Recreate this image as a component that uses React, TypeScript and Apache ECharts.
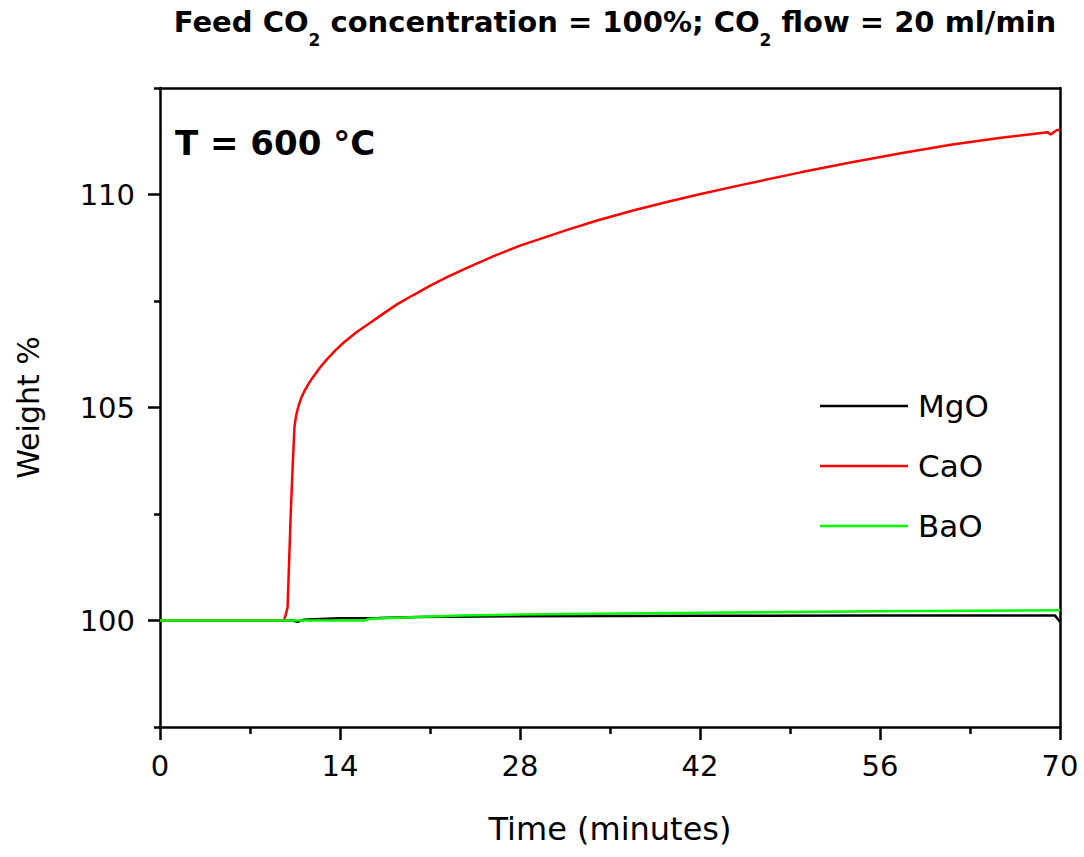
import React, { useEffect, useRef } from "react";
import * as echarts from "echarts";

const FONT = "'DejaVu Sans', sans-serif";

const seriesNames = ["MgO", "CaO", "BaO"];
const seriesColors = ["#000000", "#ff0000", "#00ff00"];

const timeMgO = [0, 10.3, 10.7, 11.2, 12, 14, 17, 20, 28, 42, 56, 69.6, 70];
const weightMgO = [100, 100, 99.97, 100.02, 100.03, 100.05, 100.06, 100.08, 100.1, 100.11, 100.12, 100.12, 99.97];

const timeCaO = [0, 5, 9.65, 9.92, 10.17, 10.33, 10.46, 10.6, 10.77, 11.0, 11.29, 11.6, 11.94, 12.4, 12.98, 13.6, 14.27, 15.3, 16.35, 17.4, 18.43, 19.7, 21.02, 22.4, 23.88, 26, 28, 31.67, 34, 36.86, 39.5, 42.05, 45.16, 49.83, 53.7, 57.62, 61.5, 65.41, 69.05, 69.26, 69.74, 70];
const weightCaO = [100, 100, 100, 100.3, 102.53, 103.7, 104.56, 104.83, 105.03, 105.24, 105.42, 105.58, 105.73, 105.92, 106.13, 106.33, 106.52, 106.77, 106.99, 107.21, 107.42, 107.64, 107.86, 108.07, 108.28, 108.56, 108.8, 109.17, 109.39, 109.63, 109.83, 110.01, 110.22, 110.52, 110.75, 110.97, 111.17, 111.33, 111.46, 111.41, 111.51, 111.52];

const timeBaO = [0, 10, 15.9, 16.3, 20, 23.4, 28, 42, 56, 70];
const weightBaO = [100, 100, 100, 100.04, 100.08, 100.12, 100.14, 100.18, 100.22, 100.24];

const xTickLabels = [0, 14, 28, 42, 56, 70];
const yTickLabels = [100, 105, 110];

const titleText = "{b|Feed CO}{s|2}{b| concentration = 100%; CO}{s|2}{b| flow = 20 ml/min}";
const annotation = "T = 600 °C";

function pairs(t: number[], w: number[]) {
  return t.map((v, i) => [v, w[i]]);
}

export default function App() {
  const ref = useRef<HTMLDivElement>(null);
  useEffect(() => {
    if (!ref.current) return;
    const chart = echarts.init(ref.current, undefined, { renderer: "svg" });
    const allData = [pairs(timeMgO, weightMgO), pairs(timeCaO, weightCaO), pairs(timeBaO, weightBaO)];
    const lineW = 2.5;
    const axisW = 2.5;
    chart.setOption({
      animation: false,
      backgroundColor: "#ffffff",
      grid: { left: 160, right: 24, top: 88, bottom: 130, containLabel: false },
      legend: {
        data: seriesNames,
        orient: "vertical",
        left: 820,
        top: 389,
        padding: 0,
        icon: "rect",
        itemWidth: 88,
        itemHeight: 2.5,
        itemGap: 26,
        textStyle: {
          fontFamily: FONT,
          fontSize: 31,
          color: "#000",
          lineHeight: 34,
          padding: [0, 0, 0, 5],
        },
      },
      xAxis: [
        {
          type: "value",
          position: "bottom",
          min: 0,
          max: 70,
          interval: 14,
          axisLine: { show: true, onZero: false, lineStyle: { color: "#000", width: axisW } },
          axisTick: { show: true, length: 13, lineStyle: { color: "#000", width: axisW } },
          minorTick: { show: true, splitNumber: 2, length: 7, lineStyle: { color: "#000", width: axisW } },
          splitLine: { show: false },
          minorSplitLine: { show: false },
          axisLabel: {
            fontFamily: FONT,
            fontSize: 29,
            color: "#000",
            margin: 24,
            customValues: xTickLabels,
          },
          name: "Time (minutes)",
          nameLocation: "middle",
          nameGap: 86,
          nameTextStyle: { fontFamily: FONT, fontSize: 32, color: "#000" },
        },
        {
          type: "value",
          position: "top",
          min: 0,
          max: 70,
          interval: 14,
          axisLine: { show: true, onZero: false, lineStyle: { color: "#000", width: axisW } },
          axisTick: { show: false },
          axisLabel: { show: false },
          splitLine: { show: false },
        },
      ],
      yAxis: [
        {
          type: "value",
          position: "left",
          min: 97.5,
          max: 112.5,
          interval: 5,
          axisLine: { show: true, onZero: false, lineStyle: { color: "#000", width: axisW } },
          axisTick: { show: true, length: 6, lineStyle: { color: "#000", width: axisW } },
          minorTick: { show: true, splitNumber: 2, length: 12, lineStyle: { color: "#000", width: axisW } },
          splitLine: { show: false },
          minorSplitLine: { show: false },
          axisLabel: {
            fontFamily: FONT,
            fontSize: 29,
            color: "#000",
            margin: 25,
            customValues: yTickLabels,
          },
          name: "Weight %",
          nameLocation: "middle",
          nameGap: 117,
          nameRotate: 90,
          nameTextStyle: { fontFamily: FONT, fontSize: 30, color: "#000" },
        },
        {
          type: "value",
          position: "right",
          min: 97.5,
          max: 112.5,
          interval: 5,
          axisLine: { show: true, onZero: false, lineStyle: { color: "#000", width: axisW } },
          axisTick: { show: false },
          axisLabel: { show: false },
          splitLine: { show: false },
        },
      ],
      graphic: [
        {
          type: "text",
          x: 615,
          y: 22,
          style: {
            text: titleText,
            align: "center",
            textAlign: "center",
            verticalAlign: "middle",
            textVerticalAlign: "middle",
            rich: {
              b: { fontFamily: FONT, fontWeight: "bold", fontSize: 29, fill: "#000", verticalAlign: "middle" },
              s: { fontFamily: FONT, fontWeight: "bold", fontSize: 17, fill: "#000", verticalAlign: "middle", padding: [36, 0, 0, 0] },
            },
          },
        },
        {
          type: "text",
          x: 175,
          y: 143,
          style: {
            text: annotation,
            font: `bold 34px ${FONT}`,
            fill: "#000",
            align: "left",
            textAlign: "left",
            verticalAlign: "middle",
            textVerticalAlign: "middle",
          },
        },
      ],
      series: seriesNames.map((name, i) => ({
        name,
        type: "line",
        xAxisIndex: 0,
        yAxisIndex: 0,
        data: allData[i],
        showSymbol: false,
        symbol: "none",
        smooth: false,
        lineStyle: { color: seriesColors[i], width: lineW },
        itemStyle: { color: seriesColors[i] },
        z: 2 + i,
      })),
    });
    return () => chart.dispose();
  }, []);
  return (
    <div
      ref={ref}
      style={{ position: "absolute", left: 0, top: 0, width: 1084, height: 857 }}
    />
  );
}
